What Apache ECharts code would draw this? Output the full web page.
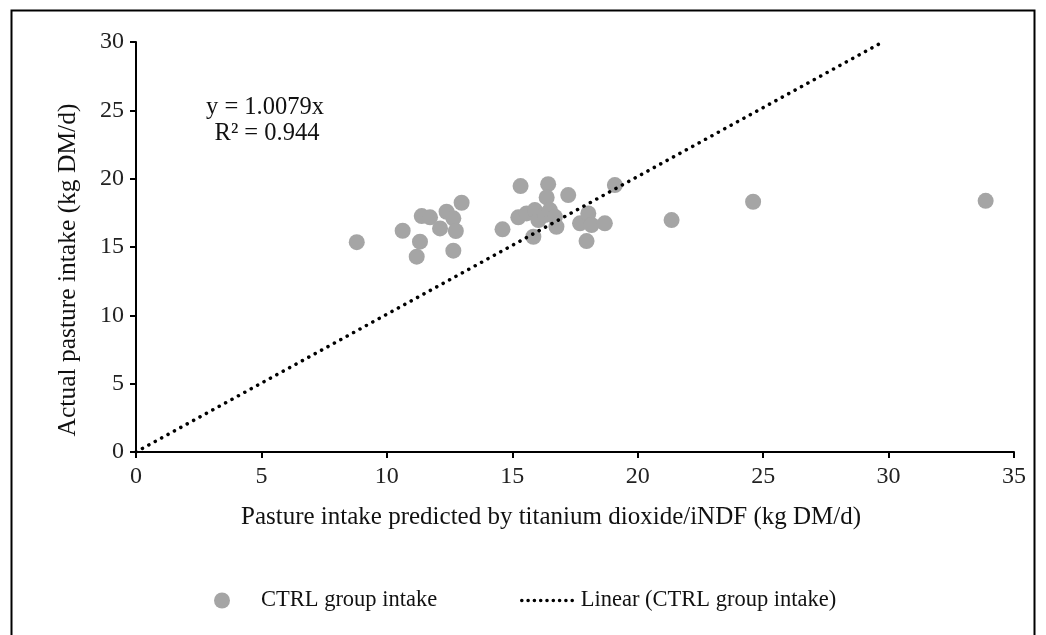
<!DOCTYPE html>
<html>
<head>
<meta charset="utf-8">
<script src="https://cdn.jsdelivr.net/npm/echarts@6/dist/echarts.min.js"></script>
<style>
html,body{margin:0;padding:0;background:#fff;}
#c{width:1046px;height:635px;}
</style>
</head>
<body>
<div id="c"></div>
<script>
// Data
const predictedIntake = [8.80, 10.63, 11.32, 11.19, 11.39, 11.72, 12.12, 12.38, 12.65, 12.75, 12.65, 12.98,
  15.33, 16.43, 16.37, 17.23, 19.09, 14.61,
  15.24, 15.57, 15.90, 16.04, 16.30, 16.50, 16.70, 15.84, 16.76,
  17.70, 18.03, 18.16, 18.69, 17.96,
  21.35, 24.60, 33.87];
const actualIntake = [15.35, 16.19, 15.39, 14.29, 17.26, 17.17, 16.36, 17.58, 17.10, 16.17, 14.73, 18.24,
  19.46, 19.60, 18.63, 18.80, 19.53, 16.29,
  17.17, 17.46, 17.70, 16.97, 17.34, 17.70, 17.21, 15.75, 16.48,
  16.73, 17.46, 16.61, 16.73, 15.43,
  16.97, 18.31, 18.38];
const trendSlope = 1.0079;
const rSquared = 0.944;
const xTicks = [0, 5, 10, 15, 20, 25, 30, 35];
const yTicks = [0, 5, 10, 15, 20, 25, 30];
const xTitle = 'Pasture intake predicted by titanium dioxide/iNDF (kg DM/d)';
const yTitle = 'Actual pasture intake (kg DM/d)';

const xMax = xTicks[xTicks.length - 1];
const yMax = yTicks[yTicks.length - 1];
const scatterData = predictedIntake.map((x, i) => [x, actualIntake[i]]);
const trendData = [[0, 0], [yMax / trendSlope, yMax]];

const FONT = '"Liberation Serif", "Times New Roman", serif';
const chart = echarts.init(document.getElementById('c'), null, {renderer: 'canvas'});
chart.setOption({
  backgroundColor: '#fff',
  animation: false,
  textStyle: {fontFamily: FONT},
  grid: {left: 136, right: 32, top: 42, bottom: 183},
  xAxis: {
    type: 'value', min: 0, max: xMax, interval: 5,
    axisLine: {show: true, onZero: false, lineStyle: {color: '#000', width: 2}},
    axisTick: {show: true, inside: false, length: 6, lineStyle: {color: '#000', width: 2}},
    axisLabel: {fontFamily: FONT, fontSize: 24, color: '#222', margin: 13},
    splitLine: {show: false}
  },
  yAxis: {
    type: 'value', min: 0, max: yMax, interval: 5,
    axisLine: {show: true, onZero: false, lineStyle: {color: '#000', width: 2}},
    axisTick: {show: true, inside: false, length: 6, lineStyle: {color: '#000', width: 2}},
    axisLabel: {fontFamily: FONT, fontSize: 24, color: '#222', margin: 12},
    splitLine: {show: false}
  },
  legend: [
    {
      data: [{name: 'CTRL group intake', icon: 'circle'}],
      left: 209, top: 584, itemWidth: 16, itemHeight: 16,
      textStyle: {fontFamily: FONT, fontSize: 22.5, color: '#111', padding: [0, 0, 0, 26]}
    },
    {
      data: [{name: 'Linear (CTRL group intake)'}],
      left: 515, top: 584, itemWidth: 54, itemHeight: 14,
      itemStyle: {color: 'rgba(0,0,0,0)', borderWidth: 0, opacity: 0},
      lineStyle: {color: '#000', width: 3.5, type: [0.1, 6.2], cap: 'round'},
      textStyle: {fontFamily: FONT, fontSize: 22.5, color: '#111'}
    }
  ],
  graphic: [
    {type: 'rect', left: 9, top: 8, shape: {width: 1023, height: 640}, style: {fill: 'none', stroke: '#000', lineWidth: 2}, silent: true},
    {type: 'text', x: 551, y: 517, style: {text: xTitle, font: '25px ' + FONT, fill: '#111', textAlign: 'center', textVerticalAlign: 'middle'}},
    {type: 'text', x: 68, y: 270, rotation: Math.PI / 2, style: {text: yTitle, font: '25.5px ' + FONT, fill: '#111', textAlign: 'center', textVerticalAlign: 'middle'}},
    {type: 'text', x: 265, y: 108, style: {text: 'y = ' + trendSlope.toFixed(4) + 'x', font: '24.5px ' + FONT, fill: '#111', textAlign: 'center', textVerticalAlign: 'middle'}},
    {type: 'text', x: 267, y: 134, style: {text: 'R\u00B2 = ' + rSquared.toFixed(3), font: '24.5px ' + FONT, fill: '#111', textAlign: 'center', textVerticalAlign: 'middle'}}
  ],
  series: [
    {
      name: 'CTRL group intake', type: 'scatter', data: scatterData,
      symbol: 'circle', symbolSize: 16,
      itemStyle: {color: '#a5a5a5', opacity: 1}, z: 2
    },
    {
      name: 'Linear (CTRL group intake)', type: 'line', data: trendData,
      symbol: 'none', showSymbol: false,
      lineStyle: {color: '#000', width: 3.5, type: [0.1, 7.2], cap: 'round'},
      itemStyle: {color: '#000'}, z: 3
    }
  ]
});
</script>
</body>
</html>
